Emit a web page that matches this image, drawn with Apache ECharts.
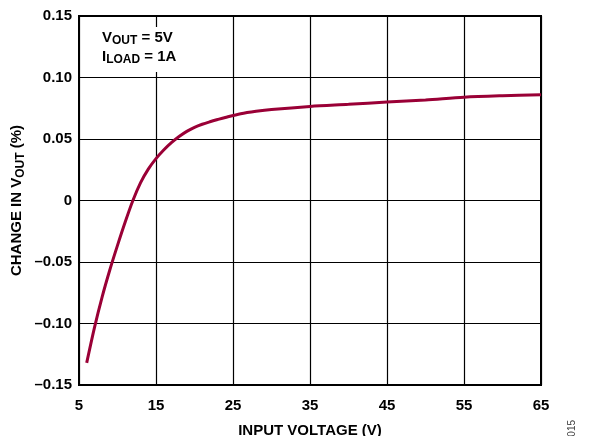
<!DOCTYPE html>
<html>
<head>
<meta charset="utf-8">
<script src="https://cdn.jsdelivr.net/npm/echarts@6/dist/echarts.min.js"></script>
<style>
  html, body { margin: 0; padding: 0; background: #fff; }
  #main { width: 589px; height: 436px; }
</style>
</head>
<body>
<div id="main"></div>
<script>
// input voltage (V) and change in Vout (%)
var inputVoltage = [6, 7, 8, 9, 10, 11, 12, 13, 14, 15, 16, 17, 18, 19, 20, 21, 22, 23, 24, 26, 28, 30, 35, 40, 45, 50, 55, 60, 65];
var changeVout = [-0.132, -0.1035, -0.0785, -0.0565, -0.0365, -0.0175, 0.0, 0.0145, 0.0255, 0.034, 0.041, 0.047, 0.052, 0.0562, 0.0595,
                  0.062, 0.064, 0.0658, 0.0675, 0.0705, 0.0725, 0.074, 0.0765, 0.0782, 0.0800, 0.0817, 0.0840, 0.0852, 0.0860];
var xTicks = [5, 15, 25, 35, 45, 55, 65];
var yTicks = [-0.15, -0.10, -0.05, 0, 0.05, 0.10, 0.15];

var chartDom = document.getElementById('main');
var myChart = echarts.init(chartDom);

var font = 'Liberation Sans, Arial, sans-serif';

function yLabel(v) {
    if (Math.abs(v) < 1e-9) return '0';
    var s = Math.abs(v).toFixed(2);
    return v < 0 ? '\u2013' + s : s;
}

var points = inputVoltage.map(function (x, i) { return [x, changeVout[i]]; });

option = {
    animation: false,
    grid: {
        left: 79, right: 48, top: 16, bottom: 51,
        outerBoundsMode: 'none',
        containLabel: false,
        show: true,
        borderColor: '#000',
        borderWidth: 2
    },
    xAxis: {
        type: 'value',
        min: 5, max: 65, interval: 10,
        name: 'INPUT VOLTAGE (V)',
        nameLocation: 'middle',
        nameGap: 38,
        nameMoveOverlap: false,
        nameTextStyle: { fontFamily: font, fontWeight: 'bold', fontSize: 15, color: '#000' },
        axisLine: { show: true, onZero: false, lineStyle: { color: '#000', width: 2 } },
        axisTick: { show: false },
        axisLabel: {
            margin: 13,
            fontFamily: font, fontWeight: 'bold', fontSize: 15, color: '#000',
            formatter: function (v) { return xTicks.indexOf(v) >= 0 ? String(v) : ''; }
        },
        splitLine: { show: true, lineStyle: { color: '#000', width: 1.2 } }
    },
    yAxis: {
        type: 'value',
        min: -0.15, max: 0.15, interval: 0.05,
        name: '{b|CHANGE IN V}{s|OUT}{b| (%)}',
        nameLocation: 'middle',
        nameRotate: 90,
        nameGap: 52,
        nameMoveOverlap: false,
        nameTextStyle: {
            rich: {
                b: { fontFamily: font, fontWeight: 'bold', fontSize: 15, color: '#000', lineHeight: 20 },
                s: { fontFamily: font, fontWeight: 'bold', fontSize: 12, color: '#000', verticalAlign: 'bottom', lineHeight: 13 }
            }
        },
        axisLine: { show: true, onZero: false, lineStyle: { color: '#000', width: 2 } },
        axisTick: { show: false },
        axisLabel: {
            margin: 7,
            fontFamily: font, fontWeight: 'bold', fontSize: 15, color: '#000',
            formatter: yLabel
        },
        splitLine: { show: true, lineStyle: { color: '#000', width: 1.2 } }
    },
    graphic: [
        {
            type: 'rect',
            shape: { x: 96, y: 27, width: 92, height: 45 },
            style: { fill: '#fff' },
            z: 10
        },
        {
            type: 'text',
            left: 102, top: 30,
            z: 11,
            style: {
                text: '{b|V}{s|OUT}{b| = 5V}\n{b|I}{s|LOAD}{b| = 1A}',
                rich: {
                    b: { fontFamily: font, fontWeight: 'bold', fontSize: 15, fill: '#000', lineHeight: 19 },
                    s: { fontFamily: font, fontWeight: 'bold', fontSize: 12, fill: '#000', verticalAlign: 'bottom', lineHeight: 13 }
                }
            }
        },
        {
            type: 'text',
            x: 567, y: 420,
            rotation: Math.PI / 2,
            style: { text: '10915-015', fontFamily: font, fontSize: 10, fill: '#444', align: 'right', verticalAlign: 'top' }
        }
    ],
    series: [{
        name: 'change',
        type: 'line',
        data: points,
        smooth: 0.3,
        showSymbol: false,
        lineStyle: { color: '#9a0036', width: 3 },
        z: 5
    }]
};
myChart.setOption(option);
</script>
</body>
</html>
